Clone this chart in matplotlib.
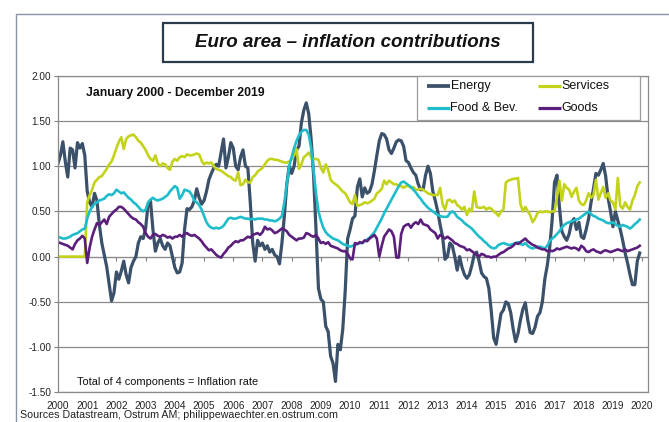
import numpy as np
import matplotlib
matplotlib.use("Agg")
import matplotlib.pyplot as plt
from matplotlib.patches import Rectangle

plt.rcParams['font.family'] = ['Liberation Sans', 'DejaVu Sans']
plt.rcParams['axes.unicode_minus'] = False

####################################
# Data: monthly contributions to euro area inflation, one row per year
####################################

years = list(range(2000, 2020))

energy = [
    [1.03, 1.12, 1.27, 1.05, 0.88, 1.20, 1.18, 0.98, 1.26, 1.20, 1.25, 1.12],   # 2000
    [0.72, 0.60, 0.55, 0.70, 0.62, 0.35, 0.15, 0.02, -0.11, -0.30, -0.49, -0.40],
    [-0.17, -0.25, -0.16, -0.05, -0.20, -0.29, -0.12, -0.05, 0.00, 0.15, 0.22, 0.20],
    [0.31, 0.58, 0.62, 0.30, 0.06, 0.15, 0.20, 0.12, 0.08, 0.15, 0.12, 0.00],
    [-0.12, -0.18, -0.17, -0.07, 0.30, 0.53, 0.52, 0.55, 0.62, 0.75, 0.65, 0.58],
    [0.62, 0.72, 0.85, 0.92, 0.98, 1.02, 1.00, 1.15, 1.30, 0.98, 1.10, 1.26],
    [1.20, 1.00, 0.96, 1.10, 1.18, 1.00, 0.98, 0.60, 0.15, -0.05, 0.18, 0.12],
    [0.15, 0.08, 0.12, 0.05, 0.08, 0.02, 0.00, -0.08, 0.15, 0.45, 0.80, 1.00],
    [0.92, 1.00, 1.18, 1.22, 1.48, 1.62, 1.70, 1.58, 1.30, 0.90, 0.30, -0.35],
    [-0.47, -0.50, -0.77, -0.83, -1.10, -1.18, -1.38, -0.97, -1.03, -0.80, -0.38, 0.20],
    [0.30, 0.42, 0.45, 0.77, 0.86, 0.66, 0.76, 0.70, 0.72, 0.80, 0.95, 1.12],
    [1.28, 1.36, 1.35, 1.30, 1.18, 1.14, 1.20, 1.27, 1.29, 1.28, 1.22, 1.06],
    [1.04, 0.98, 0.93, 0.90, 0.80, 0.74, 0.74, 0.90, 1.00, 0.92, 0.72, 0.62],
    [0.50, 0.35, 0.22, -0.03, 0.00, 0.15, 0.12, 0.00, -0.15, 0.00, -0.12, -0.20],
    [-0.24, -0.20, -0.10, 0.02, 0.05, -0.05, -0.18, -0.22, -0.24, -0.35, -0.60, -0.90],
    [-0.97, -0.80, -0.63, -0.59, -0.50, -0.52, -0.62, -0.80, -0.94, -0.85, -0.70, -0.58],
    [-0.51, -0.70, -0.84, -0.85, -0.78, -0.66, -0.62, -0.50, -0.25, -0.10, 0.10, 0.40],
    [0.82, 0.90, 0.55, 0.28, 0.22, 0.18, 0.25, 0.38, 0.42, 0.30, 0.38, 0.22],
    [0.20, 0.30, 0.42, 0.60, 0.75, 0.92, 0.90, 0.96, 1.03, 0.89, 0.65, 0.50],
    [0.33, 0.50, 0.40, 0.30, 0.18, 0.04, -0.07, -0.20, -0.31, -0.31, -0.05, 0.04],   # 2019
]

services = [
    [0.00] * 12,                                                                    # 2000
    [0.60, 0.68, 0.74, 0.82, 0.85, 0.88, 0.89, 0.93, 0.97, 1.02, 1.05, 1.12],
    [1.20, 1.27, 1.32, 1.19, 1.30, 1.33, 1.34, 1.35, 1.32, 1.28, 1.26, 1.22],
    [1.18, 1.12, 1.08, 1.06, 1.12, 1.03, 1.00, 1.03, 1.02, 0.98, 0.96, 1.05],
    [1.08, 1.06, 1.10, 1.11, 1.10, 1.13, 1.12, 1.12, 1.13, 1.14, 1.13, 1.06],
    [1.02, 1.04, 1.03, 1.04, 1.00, 0.97, 0.96, 0.95, 0.93, 0.91, 0.89, 0.88],
    [0.85, 0.84, 0.93, 0.79, 0.80, 0.85, 0.82, 0.82, 0.88, 0.90, 0.94, 0.96],
    [0.98, 1.02, 1.06, 1.08, 1.08, 1.07, 1.07, 1.06, 1.05, 1.04, 1.04, 1.05],
    [1.08, 1.12, 1.19, 0.97, 1.02, 1.10, 1.12, 1.15, 1.10, 1.08, 1.08, 1.07],
    [0.98, 0.93, 1.02, 0.96, 0.85, 0.82, 0.80, 0.78, 0.75, 0.72, 0.70, 0.65],
    [0.60, 0.58, 0.68, 0.56, 0.57, 0.58, 0.60, 0.59, 0.60, 0.62, 0.64, 0.70],
    [0.72, 0.75, 0.84, 0.80, 0.84, 0.82, 0.80, 0.80, 0.78, 0.78, 0.76, 0.78],
    [0.78, 0.76, 0.77, 0.74, 0.74, 0.75, 0.74, 0.72, 0.70, 0.69, 0.68, 0.68],
    [0.68, 0.76, 0.58, 0.52, 0.62, 0.63, 0.60, 0.62, 0.57, 0.55, 0.52, 0.55],
    [0.46, 0.53, 0.50, 0.72, 0.55, 0.54, 0.54, 0.55, 0.52, 0.54, 0.53, 0.50],
    [0.48, 0.45, 0.50, 0.52, 0.82, 0.84, 0.85, 0.86, 0.86, 0.87, 0.58, 0.50],
    [0.55, 0.50, 0.46, 0.38, 0.42, 0.48, 0.50, 0.49, 0.50, 0.50, 0.49, 0.50],
    [0.50, 0.66, 0.84, 0.62, 0.80, 0.76, 0.74, 0.66, 0.72, 0.76, 0.62, 0.58],
    [0.57, 0.62, 0.70, 0.65, 0.68, 0.85, 0.63, 0.70, 0.77, 0.65, 0.70, 0.62],
    [0.60, 0.52, 0.87, 0.56, 0.53, 0.60, 0.55, 0.52, 0.62, 0.68, 0.78, 0.82],     # 2019
]

food = [
    [0.22, 0.21, 0.20, 0.20, 0.21, 0.22, 0.24, 0.25, 0.26, 0.28, 0.30, 0.31],     # 2000
    [0.42, 0.50, 0.55, 0.58, 0.60, 0.62, 0.63, 0.64, 0.67, 0.69, 0.68, 0.70],
    [0.74, 0.72, 0.70, 0.71, 0.68, 0.65, 0.63, 0.60, 0.58, 0.55, 0.52, 0.50],
    [0.52, 0.60, 0.63, 0.65, 0.63, 0.62, 0.63, 0.64, 0.66, 0.68, 0.72, 0.75],
    [0.78, 0.76, 0.64, 0.68, 0.74, 0.73, 0.72, 0.68, 0.62, 0.60, 0.57, 0.52],
    [0.45, 0.38, 0.34, 0.32, 0.31, 0.32, 0.31, 0.32, 0.34, 0.38, 0.42, 0.43],
    [0.42, 0.42, 0.43, 0.44, 0.43, 0.42, 0.42, 0.41, 0.42, 0.41, 0.42, 0.42],
    [0.42, 0.41, 0.41, 0.40, 0.40, 0.39, 0.40, 0.42, 0.45, 0.60, 0.80, 1.00],
    [1.10, 1.20, 1.28, 1.34, 1.38, 1.40, 1.40, 1.35, 1.20, 0.95, 0.70, 0.50],
    [0.40, 0.32, 0.27, 0.24, 0.22, 0.20, 0.19, 0.18, 0.16, 0.14, 0.13, 0.12],
    [0.11, 0.12, 0.13, 0.14, 0.15, 0.15, 0.17, 0.19, 0.21, 0.24, 0.27, 0.32],
    [0.37, 0.42, 0.48, 0.53, 0.58, 0.63, 0.68, 0.73, 0.78, 0.82, 0.83, 0.81],
    [0.79, 0.77, 0.74, 0.71, 0.67, 0.64, 0.60, 0.57, 0.54, 0.52, 0.50, 0.48],
    [0.46, 0.45, 0.44, 0.44, 0.44, 0.48, 0.50, 0.48, 0.44, 0.42, 0.40, 0.37],
    [0.35, 0.33, 0.31, 0.28, 0.25, 0.22, 0.20, 0.17, 0.15, 0.12, 0.10, 0.09],
    [0.10, 0.13, 0.14, 0.15, 0.14, 0.13, 0.13, 0.14, 0.15, 0.16, 0.14, 0.13],
    [0.15, 0.12, 0.10, 0.09, 0.10, 0.11, 0.11, 0.10, 0.09, 0.12, 0.17, 0.20],
    [0.22, 0.25, 0.28, 0.32, 0.35, 0.37, 0.38, 0.39, 0.40, 0.41, 0.42, 0.44],
    [0.46, 0.48, 0.50, 0.47, 0.45, 0.44, 0.42, 0.41, 0.40, 0.38, 0.37, 0.37],
    [0.38, 0.36, 0.34, 0.33, 0.35, 0.34, 0.33, 0.31, 0.33, 0.36, 0.38, 0.41],     # 2019
]

goods = [
    [0.16, 0.15, 0.14, 0.13, 0.12, 0.10, 0.08, 0.14, 0.18, 0.20, 0.23, 0.20],     # 2000
    [-0.07, 0.10, 0.22, 0.30, 0.37, 0.35, 0.38, 0.41, 0.36, 0.44, 0.47, 0.50],
    [0.52, 0.55, 0.55, 0.53, 0.50, 0.47, 0.44, 0.42, 0.41, 0.38, 0.36, 0.33],
    [0.26, 0.22, 0.20, 0.24, 0.25, 0.23, 0.22, 0.24, 0.23, 0.21, 0.22, 0.20],
    [0.22, 0.22, 0.24, 0.22, 0.25, 0.26, 0.24, 0.23, 0.24, 0.22, 0.20, 0.17],
    [0.13, 0.10, 0.07, 0.08, 0.05, 0.02, 0.00, -0.01, 0.03, 0.06, 0.10, 0.12],
    [0.15, 0.17, 0.16, 0.18, 0.18, 0.20, 0.22, 0.21, 0.24, 0.25, 0.26, 0.24],
    [0.27, 0.33, 0.30, 0.31, 0.29, 0.26, 0.27, 0.29, 0.31, 0.30, 0.28, 0.24],
    [0.22, 0.20, 0.18, 0.20, 0.20, 0.21, 0.26, 0.25, 0.23, 0.22, 0.24, 0.20],
    [0.15, 0.16, 0.14, 0.16, 0.12, 0.11, 0.10, 0.09, 0.07, 0.06, 0.06, 0.03],
    [-0.02, -0.03, 0.15, 0.14, 0.16, 0.15, 0.18, 0.17, 0.20, 0.22, 0.24, 0.20],
    [0.00, 0.12, 0.22, 0.26, 0.30, 0.28, 0.22, -0.01, -0.01, 0.25, 0.33, 0.35],
    [0.36, 0.32, 0.36, 0.38, 0.36, 0.41, 0.36, 0.35, 0.34, 0.30, 0.28, 0.26],
    [0.20, 0.24, 0.22, 0.20, 0.22, 0.20, 0.18, 0.15, 0.14, 0.12, 0.11, 0.10],
    [0.07, 0.08, 0.06, 0.04, 0.02, 0.00, 0.03, 0.02, 0.00, 0.00, -0.01, 0.00],
    [0.00, 0.02, 0.04, 0.05, 0.07, 0.09, 0.10, 0.12, 0.15, 0.14, 0.16, 0.18],
    [0.20, 0.17, 0.15, 0.13, 0.12, 0.10, 0.09, 0.08, 0.08, 0.06, 0.07, 0.06],
    [0.07, 0.09, 0.08, 0.09, 0.10, 0.11, 0.10, 0.09, 0.10, 0.09, 0.07, 0.12],
    [0.10, 0.06, 0.05, 0.07, 0.08, 0.06, 0.05, 0.04, 0.06, 0.07, 0.06, 0.05],
    [0.06, 0.07, 0.08, 0.07, 0.06, 0.08, 0.06, 0.07, 0.08, 0.09, 0.10, 0.12],     # 2019
]

names = ['Energy', 'Services', 'Food & Bev.', 'Goods']
colours = ['#3b5069', '#c3d31a', '#1fbccb', '#5a1f7c']
widths = [2.3, 1.9, 1.9, 1.9]

year_ticks = list(range(2000, 2021))
y_ticks = [2.0, 1.5, 1.0, 0.5, 0.0, -0.5, -1.0, -1.5]

####################################
# Figure
####################################

W, H = 669, 422
AX_L, AX_R, AX_T, AX_B = 58, 648, 75.7, 392.3
fig = plt.figure(figsize=(W / 100, H / 100), dpi=100)


def ax_xy(px, py):
    # figure pixels (from top-left) -> axes fraction
    return (px - AX_L) / (AX_R - AX_L), 1 - (py - AX_T) / (AX_B - AX_T)


# thin frame round the whole chart (only top and left edges show)
fig.add_artist(Rectangle((16 / W, -0.1), 1.2, (H - 14) / H + 0.1, transform=fig.transFigure,
                         fill=False, edgecolor='#8b93a6', lw=1.0))

# title box
fig.add_artist(Rectangle((163 / W, (H - 62) / H), 370 / W, 39 / H, transform=fig.transFigure,
                         fill=True, facecolor='white', edgecolor='#2c3b4c', lw=1.6))
fig.text(348 / W, (H - 42.5) / H, 'Euro area \u2013 inflation contributions', ha='center', va='center',
         fontsize=13.5, fontweight='bold', fontstyle='italic', color='#111111')

ax = fig.add_axes([AX_L / W, (H - AX_B) / H, (AX_R - AX_L) / W, (AX_B - AX_T) / H])

dates = np.array([y + m / 12 for y in years for m in range(12)])
series = [energy, services, food, goods]
lines = []
for data, name, col, lw in zip(series, names, colours, widths):
    vals = np.array(data).ravel()
    ln, = ax.plot(dates, vals, color=col, lw=lw, label=name, solid_joinstyle='round')
    lines.append(ln)

ax.set_xlim(2000, 2020.2)
ax.set_ylim(-1.5, 2.0)
ax.set_yticks(y_ticks)
ax.set_yticklabels(['%.2f' % v for v in y_ticks])
ax.set_xticks(year_ticks)
ax.set_xticklabels([str(y) for y in year_ticks])
ax.tick_params(axis='x', length=0, pad=6, labelsize=7.2, colors='#222222')
ax.tick_params(axis='y', length=3, width=0.8, color='#808080', pad=2, labelsize=7.2,
               labelcolor='#222222')
ax.yaxis.grid(True, color='#8a8a8a', lw=0.9)
ax.set_axisbelow(True)
for sp in ax.spines.values():
    sp.set_color('#8a8a8a')
    sp.set_linewidth(0.9)

# category axis crossing at zero with year tick marks
sec = ax.secondary_xaxis(1.5 / 3.5)
sec.set_xticks(year_ticks)
sec.tick_params(axis='x', direction='out', length=3, width=0.8, color='#808080',
                labelbottom=False, labeltop=False)
sec.spines['bottom'].set_color('#8a8a8a')
sec.spines['top'].set_visible(False)

# legend box drawn by hand: two columns, two rows
x0, y0 = ax_xy(417, 75.7)
x1, y1 = ax_xy(640, 120)
ax.add_patch(Rectangle((x0, y1), x1 - x0, y0 - y1, transform=ax.transAxes, facecolor='white',
                       edgecolor='#9a9a9a', lw=0.9, zorder=5, clip_on=False))
slots = [(427, 85.7), (538, 85.7), (427, 108), (538, 108)]
for (px, py), ln in zip(slots, [lines[0], lines[1], lines[2], lines[3]]):
    hx0, hy = ax_xy(px, py)
    hx1, _ = ax_xy(px + 23, py)
    ax.plot([hx0, hx1], [hy, hy], transform=ax.transAxes, color=ln.get_color(),
            lw=ln.get_linewidth() + 0.4, solid_capstyle='butt', zorder=6, clip_on=False)
    tx, _ = ax_xy(px + 23.5, py)
    ax.text(tx, hy, ln.get_label(), transform=ax.transAxes, ha='left', va='center',
            fontsize=9, color='#111111', zorder=6)

tx, ty = ax_xy(86, 93)
ax.text(tx, ty, 'January 2000 - December 2019', transform=ax.transAxes,
        ha='left', va='center', fontsize=8.8, fontweight='bold', color='#111111')
tx, ty = ax_xy(77, 381.7)
ax.text(tx, ty, 'Total of 4 components = Inflation rate',
        transform=ax.transAxes, ha='left', va='center', fontsize=7.9, color='#111111')

fig.text(20 / W, (H - 418.5) / H, 'Sources Datastream, Ostrum AM; philippewaechter.en.ostrum.com',
         ha='left', va='baseline', fontsize=7.7, color='#222222')

fig.savefig('out.png', dpi=100)
